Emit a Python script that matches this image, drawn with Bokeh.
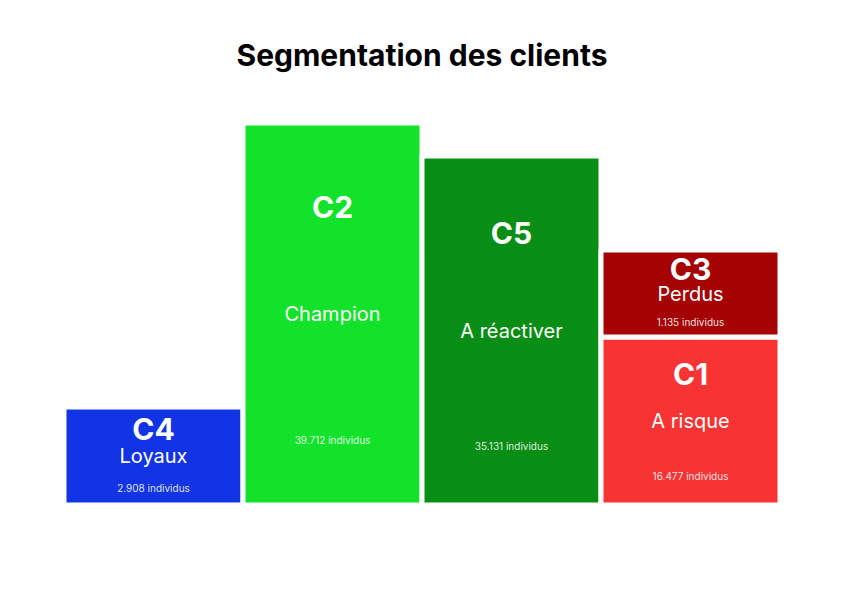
from bokeh.plotting import figure
from bokeh.models import Range1d, ColumnDataSource
from bokeh.core.properties import value
from bokeh.embed import file_html
from bokeh.resources import INLINE

# ---- data ----
clusters = ["C4", "C2", "C5", "C1", "C3"]
noms = ["Loyaux", "Champion", "A réactiver", "A risque", "Perdus"]
individus = [2908, 39712, 35131, 16477, 1135]
hauteur = [98, 382, 349, 168, 87]          # relative height of each block
colonne = [0, 1, 2, 3, 3]                  # C3 is stacked on C1
couleurs = ["#1234E4", "#12E22A", "#088E14", "#F83333", "#A50303"]
titre = "Segmentation des clients"

# ---- stacking ----
bottoms, tops = [], []
cum = {}
for c, h in zip(colonne, hauteur):
    b = cum.get(c, 0)
    bottoms.append(b)
    tops.append(b + h)
    cum[c] = b + h

centre = [(b + t) / 2 for b, t in zip(bottoms, tops)]
src = ColumnDataSource(dict(
    left=colonne,
    right=[c + 1 for c in colonne],
    bottom=bottoms,
    top=tops,
    color=couleurs,
    xc=[c + 0.5 for c in colonne],
    y_lab=[m + 0.28 * h for m, h in zip(centre, hauteur)],
    y_nom=centre,
    y_cnt=[m - 0.33 * h for m, h in zip(centre, hauteur)],
    lab=clusters,
    nom=noms,
    cnt=[f"{n:,}".replace(",", ".") + " individus" for n in individus],
))

W, H = 843, 596
half = W / 179 / 2
p = figure(width=W, height=H, output_backend="svg", toolbar_location=None,
           x_range=Range1d(2 - half, 2 + half), y_range=Range1d(-91.5, 504.5),
           x_axis_location=None, y_axis_location=None, min_border=0)
p.grid.visible = False
p.outline_line_color = None
p.background_fill_color = "white"
p.border_fill_color = "white"

p.quad(left="left", right="right", bottom="bottom", top="top", source=src,
       fill_color="color", line_color="white", line_width=5)

font = value("Inter")
p.text(x="xc", y="y_lab", text="lab", source=src, text_font=font,
       text_font_size="30px", text_font_style="bold", text_color="white",
       text_align="center", text_baseline="middle")
p.text(x="xc", y="y_nom", text="nom", source=src, text_font=font,
       text_font_size="20px", text_color="white",
       text_align="center", text_baseline="middle")
p.text(x="xc", y="y_cnt", text="cnt", source=src, text_font=font,
       text_font_size="10px", text_color="white", text_alpha=0.88,
       text_align="center", text_baseline="middle")

p.text(x=[2], y=[450.5], text=[titre], text_font=font, text_font_size="30px",
       text_font_style="bold", text_color="black", text_align="center",
       text_baseline="middle")

open("out.html", "w").write(file_html(p, INLINE))
